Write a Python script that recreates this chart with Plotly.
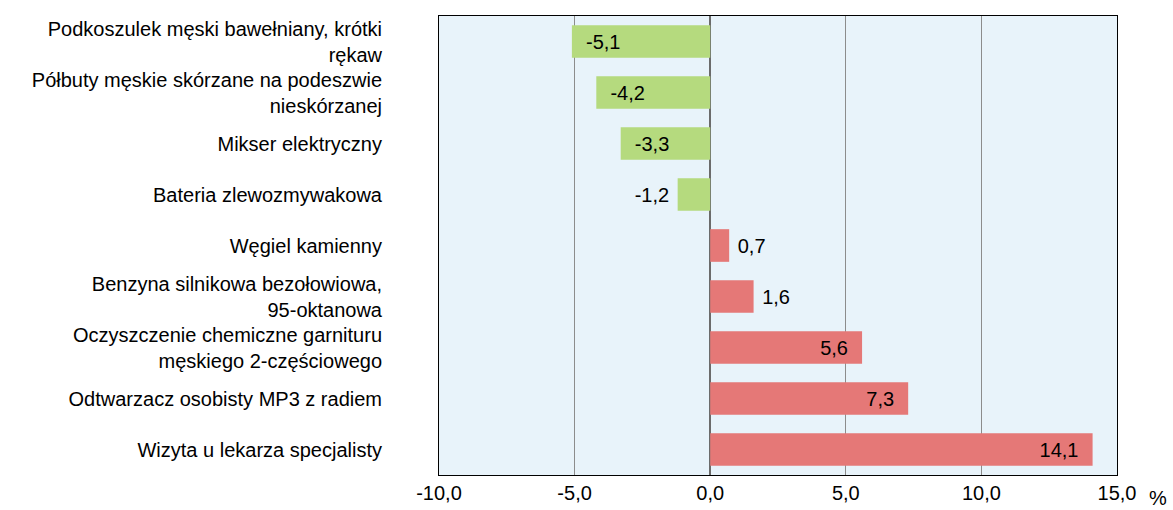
import plotly.graph_objects as go

categories = [
    "Podkoszulek męski bawełniany, krótki<br>rękaw",
    "Półbuty męskie skórzane na podeszwie<br>nieskórzanej",
    "Mikser elektryczny",
    "Bateria zlewozmywakowa",
    "Węgiel kamienny",
    "Benzyna silnikowa bezołowiowa,<br>95-oktanowa",
    "Oczyszczenie chemiczne garnituru<br>męskiego 2-częściowego",
    "Odtwarzacz osobisty MP3 z radiem",
    "Wizyta u lekarza specjalisty",
]
values = [-5.1, -4.2, -3.3, -1.2, 0.7, 1.6, 5.6, 7.3, 14.1]
tick_vals = [-10, -5, 0, 5, 10, 15]
tick_text = ["-10,0", "-5,0", "0,0", "5,0", "10,0", "15,0"]

GREEN = "#b5da7e"
RED = "#e57877"
FONT = "Liberation Sans, Arial, sans-serif"
FS = 20
NB = "\u00a0"

colors = [GREEN if v < 0 else RED for v in values]
positions = ["inside" if abs(v) > 3 else "outside" for v in values]


def make_label(v, pos):
    s = f"{v:.1f}".replace(".", ",")
    pad = NB * (2 if pos == "inside" else 1)
    # padding on the side facing the bar end
    if pos == "inside":
        return pad + s if v < 0 else s + pad
    return s + pad if v < 0 else pad + s


labels = [make_label(v, p) for v, p in zip(values, positions)]

fig = go.Figure(go.Bar(
    y=categories,
    x=values,
    orientation="h",
    marker=dict(color=colors, line=dict(width=0)),
    text=labels,
    textposition=positions,
    insidetextanchor="end",
    textfont=dict(family=FONT, size=FS, color="#000000"),
    insidetextfont=dict(family=FONT, size=FS, color="#000000"),
    outsidetextfont=dict(family=FONT, size=FS, color="#000000"),
    cliponaxis=False,
    hoverinfo="skip",
))

fig.update_layout(
    width=1173, height=510,
    margin=dict(l=439, r=56, t=16, b=35),
    paper_bgcolor="#ffffff",
    plot_bgcolor="#e8f3fa",
    bargap=0.36,
    showlegend=False,
    font=dict(family=FONT, size=FS, color="#000000"),
    xaxis=dict(
        range=[-10, 15],
        tickvals=tick_vals,
        ticktext=tick_text,
        showgrid=True, gridcolor="#8c8c8c", gridwidth=1,
        zeroline=True, zerolinecolor="#6b6b6b", zerolinewidth=1.5,
        showline=True, linecolor="#000000", linewidth=1, mirror=True,
        ticks="", tickfont=dict(size=FS),
        automargin=False,
    ),
    yaxis=dict(
        autorange="reversed",
        showgrid=False,
        showline=True, linecolor="#000000", linewidth=1, mirror=True,
        ticks="", ticklabelstandoff=52,
        tickfont=dict(size=FS),
        automargin=False,
    ),
    annotations=[dict(
        text="%", xref="paper", yref="paper", x=1.0, y=0, xanchor="left", yanchor="top",
        xshift=30, yshift=-10, showarrow=False, font=dict(size=FS),
    )],
)

fig.write_html("out.html", config={"displayModeBar": False},
               post_script="document.body.style.margin='0';")
